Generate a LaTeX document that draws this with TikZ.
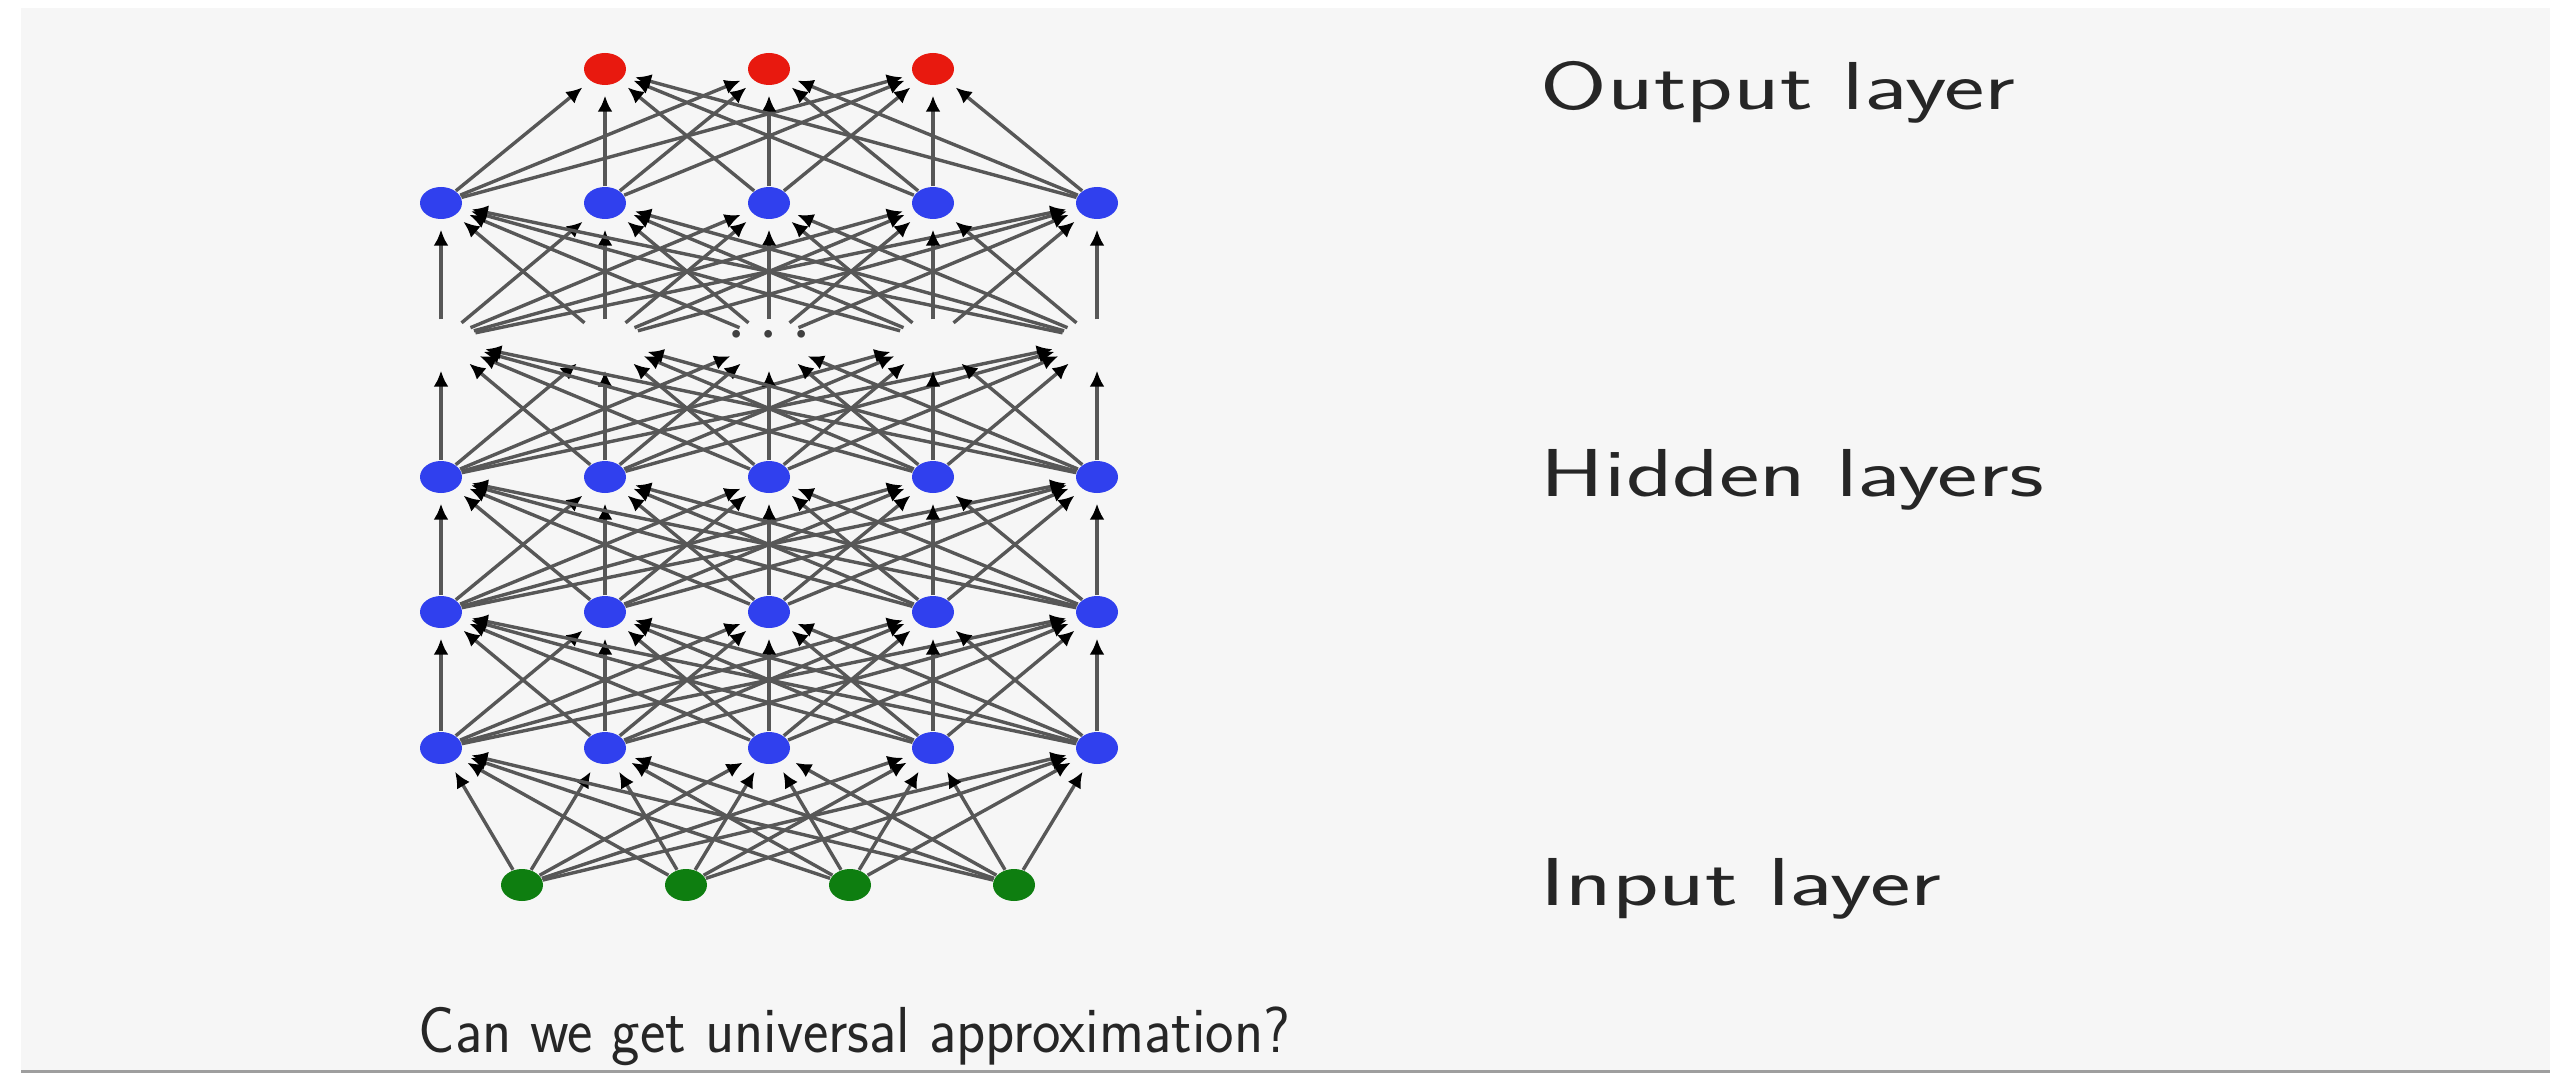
\documentclass[tikz,border=0pt]{standalone}
\usepackage{xcolor}
\usepackage{graphicx}
\usepackage{tikz}
\usetikzlibrary{arrows.meta,shapes.geometric}

\definecolor{outred}{HTML}{E8190F}
\definecolor{hidblue}{HTML}{3040EE}
\definecolor{ingreen}{HTML}{0E7E10}
\definecolor{slidebg}{HTML}{F6F6F6}
\newcommand{\slidetext}[2][1.42]{\scalebox{#1}[1]{#2}}

\begin{document}
\begin{tikzpicture}[
  x=0.1mm, y=-0.1mm,
  neuron/.style={ellipse, inner sep=0pt, minimum width=4.2mm, minimum height=3.2mm},
  ghost/.style={ellipse, inner sep=0pt, minimum width=7.2mm, minimum height=4.0mm},
  arr/.style={-{Latex[length=1.6mm, width=1.5mm, color=black]}, draw=black!66, line width=0.34mm, shorten >=1mm},
  lbl/.style={anchor=base west, inner sep=0pt, text=black!85, font=\fontsize{19.3}{23}\selectfont\sffamily}
]
% slide background
\fill[white] (0,0) rectangle (2550,1073);
\fill[slidebg] (21,8) rectangle (2550,1070);
\fill[black!38] (21,1070) rectangle (2550,1073);
\useasboundingbox (0,0) rectangle (2550,1073);

% input layer
\foreach \i/\x in {1/522, 2/686, 3/850, 4/1014}
  \node[neuron, fill=ingreen] (in\i) at (\x,885) {};

% hidden layers, with a gap row for the dots
\foreach \i/\x in {1/441, 2/605, 3/769, 4/933, 5/1097} {
  \node[neuron, fill=hidblue] (ha\i) at (\x,748) {};
  \node[neuron, fill=hidblue] (hb\i) at (\x,612) {};
  \node[neuron, fill=hidblue] (hc\i) at (\x,477) {};
  \node[ghost] (gh\i) at (\x,340) {};
  \node[neuron, fill=hidblue] (hd\i) at (\x,203) {};
}
\node[inner sep=0pt, text=black!75, font=\fontsize{22}{26}\selectfont] (dots) at (769,336) {$\cdots$};

% output layer
\foreach \i/\x in {1/605, 2/769, 3/933}
  \node[neuron, fill=outred] (out\i) at (\x,69) {};

% connections
\foreach \i in {1,...,4}
  \foreach \j in {1,...,5}
    \draw[arr] (in\i) -- (ha\j);
\foreach \i in {1,...,5}
  \foreach \j in {1,...,5} {
    \draw[arr] (ha\i) -- (hb\j);
    \draw[arr] (hb\i) -- (hc\j);
    \draw[arr] (hc\i) -- (gh\j);
    \draw[arr] (gh\i) -- (hd\j);
  }
\foreach \i in {1,...,5}
  \foreach \j in {1,2,3}
    \draw[arr] (hd\i) -- (out\j);

% labels
\node[lbl] (outlbl) at (1540,110) {\slidetext{Output layer}};
\node[lbl] (hidlbl) at (1540,496) {\slidetext{Hidden layers}};
\node[lbl] (inlbl) at (1540,905) {\slidetext{Input layer}};
\node[lbl, font=\fontsize{18.5}{22}\selectfont\sffamily] (question) at (418,1052) {\slidetext[0.93]{Can we get universal approximation?}};
\end{tikzpicture}
\end{document}
